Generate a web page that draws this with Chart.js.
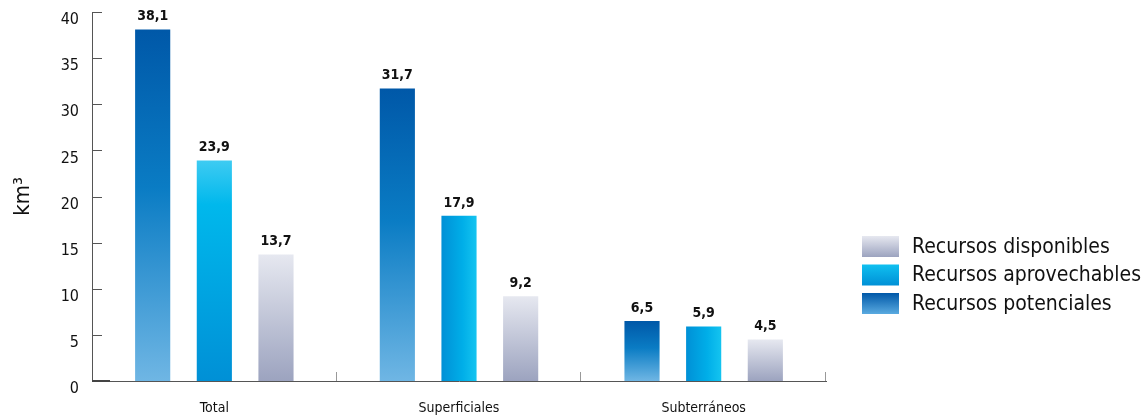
<!DOCTYPE html>
<html>
<head>
<meta charset="utf-8">
<script src="https://cdn.jsdelivr.net/npm/chart.js@4"></script>
<style>
  html, body { margin: 0; padding: 0; background: #fff; }
  #wrap { width: 1142px; height: 418px; }
</style>
</head>
<body>
<div id="wrap"><canvas id="chart" width="1142" height="418"></canvas></div>
<script>
// =====================================
// Data
// =====================================
const categories = ["Total", "Superficiales", "Subterráneos"];
const potenciales = [38.1, 31.7, 6.5];
const aprovechables = [23.9, 17.9, 5.9];
const disponibles = [13.7, 9.2, 4.5];
const yTicks = [0, 5, 10, 15, 20, 25, 30, 35, 40];
const seriesNames = ["Recursos potenciales", "Recursos aprovechables", "Recursos disponibles"];

const FONT = "'DejaVu Sans Condensed', 'Liberation Sans Narrow', Roboto, sans-serif";

// gradient helpers
function vGrad(ctx, top, bottom, stops) {
    const g = ctx.createLinearGradient(0, top, 0, bottom);
    stops.forEach(s => g.addColorStop(s[0], s[1]));
    return g;
}
function hGrad(ctx, left, right, stops) {
    const g = ctx.createLinearGradient(left, 0, right, 0);
    stops.forEach(s => g.addColorStop(s[0], s[1]));
    return g;
}

// per dataset: vertical stops, optional horizontal stops + first index that uses them
const barStyles = [
    { v: [[0, "#0058a8"], [0.45, "#0a7cc4"], [1, "#6fb6e4"]] },
    { v: [[0, "#3ecbf2"], [0.2, "#00b8ec"], [1, "#0090d6"]],
      h: [[0, "#0090d6"], [0.6, "#00aee8"], [1, "#14c4f0"]], hFrom: 1 },
    { v: [[0, "#e6e8f0"], [1, "#9ca3bf"]] }
];

// =====================================
// Plugin: per-bar gradients (needs final bar geometry)
// =====================================
const gradientPlugin = {
    id: "barGradients",
    beforeDatasetsDraw(chart) {
        const ctx = chart.ctx;
        chart.data.datasets.forEach((ds, di) => {
            const st = barStyles[di];
            chart.getDatasetMeta(di).data.forEach((bar, i) => {
                let fill;
                if (st.h && i >= st.hFrom) {
                    fill = hGrad(ctx, bar.x - bar.width / 2, bar.x + bar.width / 2, st.h);
                } else {
                    fill = vGrad(ctx, bar.y, bar.base, st.v);
                }
                bar.options = Object.assign({}, bar.options, { backgroundColor: fill });
            });
        });
    }
};

// =====================================
// Plugin: inner ticks, value labels, legend
// =====================================
const decorPlugin = {
    id: "decor",
    afterDraw(chart) {
        const ctx = chart.ctx;
        const y = chart.scales.y;
        const area = chart.chartArea;
        ctx.save();
        ctx.strokeStyle = "#555";
        ctx.lineWidth = 1;
        // y ticks pointing inward
        yTicks.forEach(v => {
            const py = Math.round(y.getPixelForValue(v)) + 0.5;
            ctx.beginPath();
            ctx.moveTo(area.left, py);
            ctx.lineTo(area.left + 10, py);
            ctx.stroke();
        });
        // category separators on the baseline
        ctx.strokeStyle = "#999";
        for (let i = 1; i <= categories.length; i++) {
            const px = Math.round(area.left + (area.right - area.left) * i / categories.length) - 0.5;
            ctx.beginPath();
            ctx.moveTo(px, area.bottom);
            ctx.lineTo(px, area.bottom - 9);
            ctx.stroke();
        }
        // thicker start of baseline
        ctx.strokeStyle = "#444";
        ctx.lineWidth = 2;
        ctx.beginPath();
        ctx.moveTo(area.left, area.bottom);
        ctx.lineTo(area.left + 18, area.bottom);
        ctx.stroke();

        // value labels
        ctx.fillStyle = "#111";
        ctx.font = "bold 14px " + FONT;
        ctx.textAlign = "center";
        ctx.textBaseline = "bottom";
        chart.data.datasets.forEach((ds, di) => {
            chart.getDatasetMeta(di).data.forEach((bar, i) => {
                ctx.fillText(String(ds.data[i]).replace(".", ","), bar.x, bar.y - 6);
            });
        });

        // legend (reverse order)
        const lx = 862, ly = 236, rowH = 28.5, bw = 37, bh = 21;
        const legendStops = [
            [[0, "#e6e8f0"], [1, "#9ca3bf"]],
            [[0, "#10c0f0"], [1, "#0090d6"]],
            [[0, "#0058a8"], [1, "#5aaae0"]]
        ];
        const order = [2, 1, 0];
        ctx.font = "21px " + FONT;
        ctx.textAlign = "left";
        ctx.textBaseline = "middle";
        order.forEach((di, row) => {
            const top = ly + row * rowH;
            ctx.fillStyle = vGrad(ctx, top, top + bh, legendStops[row]);
            ctx.fillRect(lx, top, bw, bh);
            ctx.fillStyle = "#111";
            ctx.fillText(chart.data.datasets[di].label, lx + 50, top + bh / 2 + 1);
        });
        ctx.restore();
    }
};

// =====================================
// Chart
// =====================================
const ctx = document.getElementById("chart").getContext("2d");
new Chart(ctx, {
    type: "bar",
    data: {
        labels: categories,
        datasets: [
            { label: seriesNames[0], data: potenciales, backgroundColor: "#0a7cc4" },
            { label: seriesNames[1], data: aprovechables, backgroundColor: "#00aee8" },
            { label: seriesNames[2], data: disponibles, backgroundColor: "#c4c8d8" }
        ]
    },
    options: {
        responsive: false,
        animation: false,
        devicePixelRatio: 1,
        layout: { padding: { top: 12, right: 316, left: 0, bottom: 0 } },
        datasets: {
            bar: { categoryPercentage: 0.756, barPercentage: 0.57 }
        },
        plugins: {
            legend: { display: false },
            tooltip: { enabled: false }
        },
        scales: {
            x: {
                grid: { display: false, drawTicks: false },
                border: { display: true, color: "#555", width: 1 },
                ticks: { color: "#111", font: { family: FONT, size: 14 }, padding: 19 },
                afterFit: s => { s.height = 37; s.paddingLeft = 0; s.paddingRight = 0; }
            },
            y: {
                min: 0,
                max: 40,
                afterBuildTicks: s => { s.ticks = yTicks.map(v => ({ value: v })); },
                grid: { display: false, drawTicks: false },
                border: { display: true, color: "#555", width: 1 },
                ticks: { color: "#111", font: { family: FONT, size: 16 }, padding: 13, labelOffset: 8 },
                title: {
                    display: true,
                    text: "km³",
                    color: "#111",
                    font: { family: FONT, size: 22 },
                    padding: { top: 10, bottom: 0 }
                },
                afterFit: s => { s.width = 92; s.paddingTop = 0; s.paddingBottom = 0; }
            }
        }
    },
    plugins: [gradientPlugin, decorPlugin]
});
</script>
</body>
</html>
